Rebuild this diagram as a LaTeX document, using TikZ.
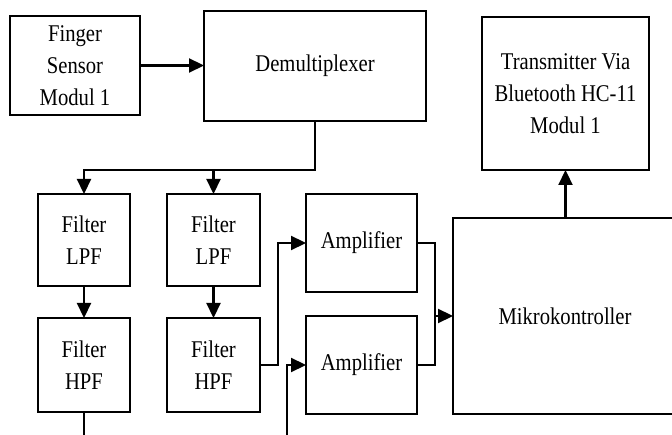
\documentclass[tikz,border=0pt]{standalone}
\usepackage{fontspec}
\setmainfont{Liberation Serif}[FakeStretch=0.86]
\usetikzlibrary{arrows.meta}
\begin{document}
\begin{tikzpicture}[x=1pt,y=-1pt,line width=2.2pt,>={Triangle[length=15pt,width=14pt]}]
  	\tikzstyle{every node}=[font=\fontsize{24}{32}\selectfont]
  	\tikzstyle{block}=[draw,align=center,inner sep=2pt,outer sep=0pt]
  	\useasboundingbox (0,0) rectangle (672,435);
  	\node[block,minimum width=130pt,minimum height=99pt] (finger) at (75,65.5) {Finger\\Sensor\\Modul 1};
  	\node[block,minimum width=222pt,minimum height=110pt] (demux) at (315,66) {Demultiplexer};
  	\node[block,minimum width=167pt,minimum height=153pt] (trans) at (565.5,93.5) {Transmitter Via\\Bluetooth HC-11\\Modul 1};
  	\node[block,minimum width=92pt,minimum height=92pt] (lpfa) at (84,240) {Filter\\LPF};
  	\node[block,minimum width=93pt,minimum height=92pt] (lpfb) at (213.5,240) {Filter\\LPF};
  	\node[block,minimum width=92pt,minimum height=94pt] (hpfa) at (84,365) {Filter\\HPF};
  	\node[block,minimum width=93pt,minimum height=94pt] (hpfb) at (213.5,365) {Filter\\HPF};
  	\node[block,minimum width=111pt,minimum height=98pt] (ampa) at (361.5,243) {Amplifier};
  	\node[block,minimum width=111pt,minimum height=98pt] (ampb) at (361.5,365) {Amplifier};
  	\node[block,minimum width=224pt,minimum height=196pt] (mikro) at (565,316) {Mikrokontroller};
  	\coordinate (outa) at (84,440);
  	\coordinate (inb) at (287,440);
  	\draw[->] (finger.east) -- (finger.east -| demux.west);
  	\draw[->] (demux.south) -- ++(0,49) coordinate (bus) -| (lpfa.north);
  	\draw[->] (lpfb.north |- bus) -- (lpfb.north);
  	\draw[->] (lpfa) -- (hpfa);
  	\draw[->] (lpfb) -- (hpfb);
  	\draw (hpfa.south) -- (outa);
  	\draw[->] (hpfb.east) -- ++(18,0) |- (ampa.west);
  	\draw[->] (inb) |- (ampb.west);
  	\draw (ampa.east) -- ++(18,0) coordinate (join) |- (ampb.east);
  	\draw[->] (join |- mikro.west) -- (mikro.west);
  	\draw[->] (mikro.north -| trans.south) -- (trans.south);
\end{tikzpicture}
\end{document}
